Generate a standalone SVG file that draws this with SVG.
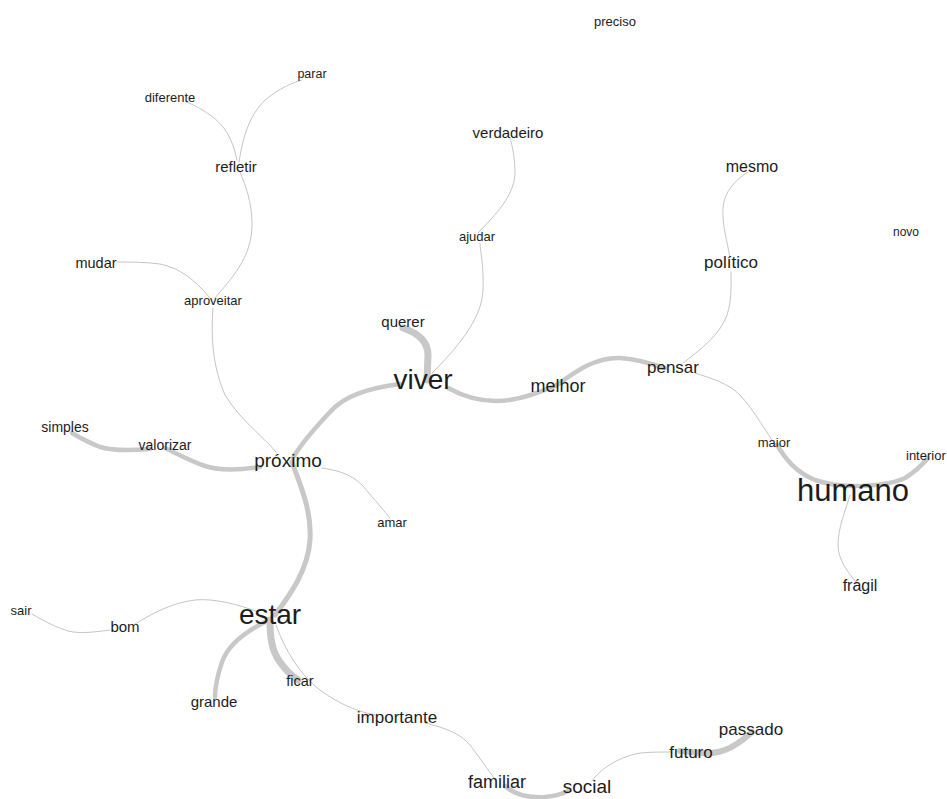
<svg xmlns="http://www.w3.org/2000/svg" width="947" height="799" viewBox="0 0 947 799">
<style>
.e{fill:none;stroke:#c8c8c8;stroke-linecap:round}
.t{stroke-width:0.9;stroke:#bdbdbd}
.m{stroke-width:4.5}
.k{stroke-width:7}
text{font-family:"Liberation Sans",Arial,sans-serif;fill:#1c1c1c;text-anchor:middle}
</style>
<rect width="947" height="799" fill="#ffffff"/>
<g id="edges">
<path class="e k" d="M403,328 C418,333 428,342 428,355 L427,380"/>
<path class="e t" d="M432,373 C455,350 482,320 483,290 C484,265 480,250 480,243"/>
<path class="e t" d="M478,233 C495,215 516,195 515,170 C514,150 511,142 510,138"/>
<path class="e m" d="M448,388 C470,400 490,403 510,400 C530,397 545,390 557,385"/>
<path class="e m" d="M557,385 C575,372 595,357 620,358 C635,359 650,363 665,368"/>
<path class="e m" d="M400,384 C370,388 345,395 330,412 C315,428 300,445 293,458"/>
<path class="e m" style="stroke-width:5" d="M292,462 C300,485 312,510 310,540 C308,570 290,595 275,615"/>
<path class="e t" d="M213,308 C211,335 212,365 225,395 C240,420 262,435 276,452"/>
<path class="e t" d="M210,298 C195,280 180,268 160,264 C145,262 130,262 117,262"/>
<path class="e t" d="M215,298 C230,280 252,258 252,225 C252,200 245,185 240,172"/>
<path class="e t" d="M237,160 C233,140 225,125 210,115 C200,108 192,104 186,102"/>
<path class="e t" d="M239,162 C243,135 250,115 265,100 C280,88 292,83 302,80"/>
<path class="e m" d="M260,467 C240,470 220,471 205,466 C190,461 180,455 165,448"/>
<path class="e m" d="M150,449 C125,451 110,450 100,447 C90,443 80,438 72,433"/>
<path class="e t" d="M322,468 C335,470 350,473 362,485 C375,500 385,512 390,518"/>
<path class="e t" d="M135,624 C150,615 170,603 195,600 C215,598 240,605 258,612"/>
<path class="e t" d="M110,630 C95,632 80,634 68,631 C55,627 42,620 32,614"/>
<path class="e m" d="M265,622 C245,632 228,645 222,662 C216,680 215,690 215,697"/>
<path class="e k" d="M270,620 C270,635 271,650 280,662 C287,672 292,676 298,680"/>
<path class="e t" d="M276,625 C285,650 300,675 320,690 C340,705 360,712 375,715"/>
<path class="e t" d="M425,723 C445,728 460,733 470,745 C480,758 488,770 494,778"/>
<path class="e m" d="M505,786 C515,795 530,798 545,797 C555,796 562,794 568,791"/>
<path class="e t" d="M592,781 C600,770 615,758 640,753 C650,752 662,752 672,752"/>
<path class="e k" style="stroke-width:6" d="M680,751 C695,752 710,756 725,750 C738,745 745,738 752,732"/>
<path class="e t" d="M683,363 C700,350 720,335 727,315 C732,300 731,285 731,272"/>
<path class="e t" d="M730,258 C727,240 722,225 723,208 C724,192 735,180 748,172"/>
<path class="e t" d="M695,373 C710,378 728,383 740,395 C752,408 762,425 772,440"/>
<path class="e m" d="M777,445 C785,458 795,472 815,480 C830,485 845,486 853,486"/>
<path class="e m" d="M853,486 C870,486 890,485 905,478 C915,472 922,465 928,458"/>
<path class="e t" d="M850,495 C845,512 838,528 838,545 C838,560 848,572 856,582"/>
</g>
<g id="n-preciso"><text x="615" y="25.5" font-size="13">preciso</text></g>
<g id="n-parar"><text x="312" y="78" font-size="12.5">parar</text></g>
<g id="n-diferente"><text x="170" y="101.5" font-size="13">diferente</text></g>
<g id="n-refletir"><text x="236" y="172" font-size="15">refletir</text></g>
<g id="n-verdadeiro"><text x="508" y="138" font-size="15">verdadeiro</text></g>
<g id="n-mesmo"><text x="752" y="172" font-size="16">mesmo</text></g>
<g id="n-novo"><text x="906" y="236" font-size="12">novo</text></g>
<g id="n-ajudar"><text x="477" y="241" font-size="13">ajudar</text></g>
<g id="n-politico"><text x="731" y="268" font-size="17">político</text></g>
<g id="n-mudar"><text x="96" y="268" font-size="14.5">mudar</text></g>
<g id="n-aproveitar"><text x="213" y="305" font-size="13">aproveitar</text></g>
<g id="n-querer"><text x="403" y="327" font-size="15">querer</text></g>
<g id="n-viver"><text x="423" y="389" font-size="28">viver</text></g>
<g id="n-melhor"><text x="558" y="392" font-size="18">melhor</text></g>
<g id="n-pensar"><text x="673" y="373" font-size="17">pensar</text></g>
<g id="n-simples"><text x="65" y="432" font-size="14">simples</text></g>
<g id="n-valorizar"><text x="165" y="450" font-size="14">valorizar</text></g>
<g id="n-maior"><text x="774" y="447" font-size="13">maior</text></g>
<g id="n-interior"><text x="906" y="460" font-size="13" style="text-anchor:start">interior</text></g>
<g id="n-proximo"><text x="288" y="467" font-size="19">próximo</text></g>
<g id="n-humano"><text x="853" y="501" font-size="31">humano</text></g>
<g id="n-amar"><text x="392" y="527" font-size="13">amar</text></g>
<g id="n-fragil"><text x="860" y="591" font-size="16">frágil</text></g>
<g id="n-sair"><text x="21" y="615" font-size="13">sair</text></g>
<g id="n-bom"><text x="125" y="632" font-size="15">bom</text></g>
<g id="n-estar"><text x="270" y="624" font-size="28">estar</text></g>
<g id="n-ficar"><text x="300" y="686" font-size="14.5">ficar</text></g>
<g id="n-grande"><text x="214" y="707" font-size="15">grande</text></g>
<g id="n-importante"><text x="397" y="723" font-size="17">importante</text></g>
<g id="n-passado"><text x="751" y="735" font-size="17">passado</text></g>
<g id="n-futuro"><text x="691" y="758" font-size="17">futuro</text></g>
<g id="n-familiar"><text x="497" y="788" font-size="18">familiar</text></g>
<g id="n-social"><text x="587" y="793" font-size="19">social</text></g>
</svg>
